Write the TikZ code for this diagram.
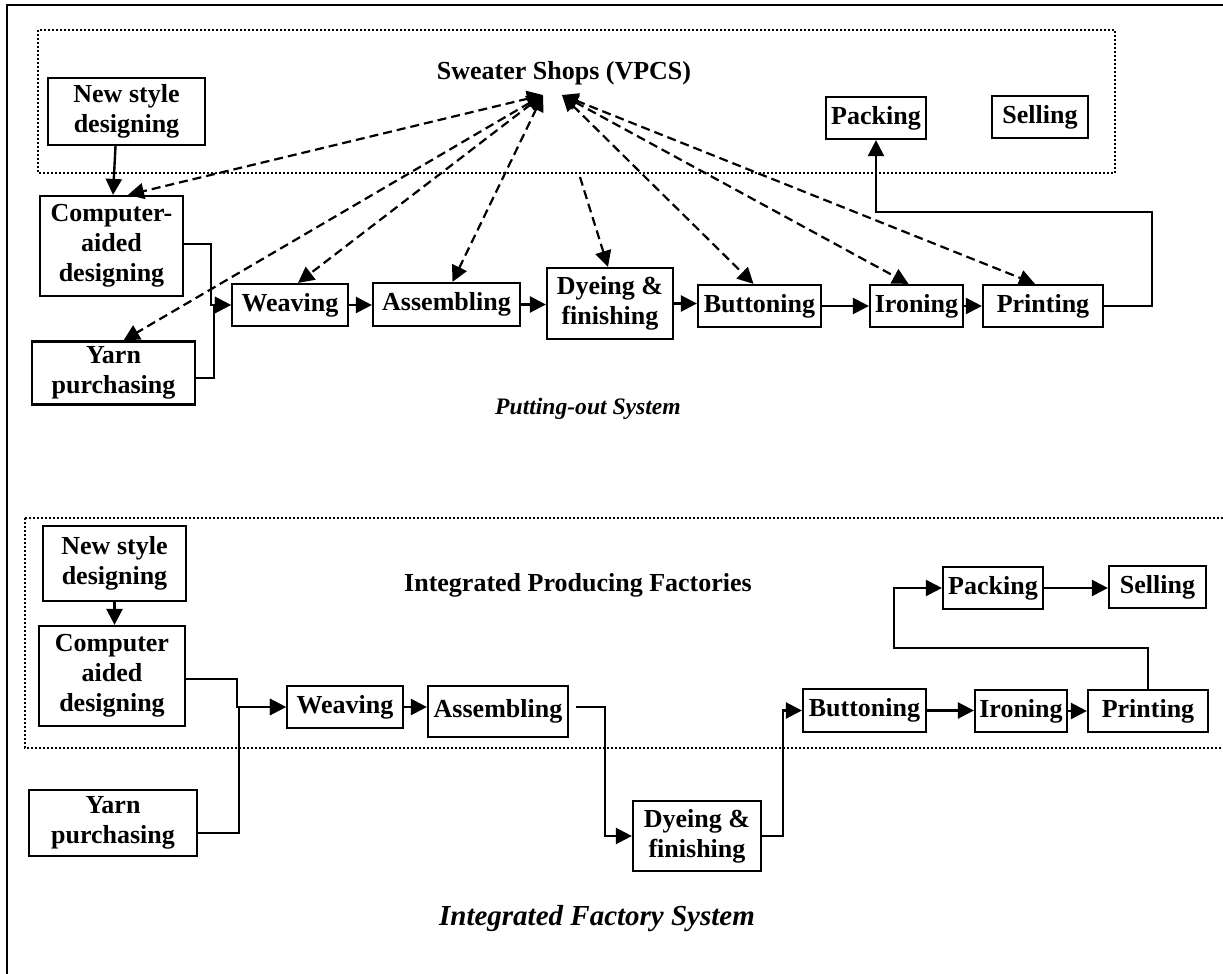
\documentclass[tikz,border=0pt]{standalone}
\usepackage{fontspec}
\setmainfont{Liberation Serif}
\usetikzlibrary{arrows.meta,calc}

\begin{document}
\begin{tikzpicture}[x=0.5pt,y=-0.5pt,>={Triangle[length=8pt,width=8pt]},
    box/.style={draw,line width=1.1pt,inner sep=0pt,align=center,
        font=\fontsize{13}{15}\selectfont\bfseries},
    conn/.style={line width=1.2pt},
    shopline/.style={line width=1.1pt,dash pattern=on 4.5pt off 2.5pt},
    zone/.style={line width=1pt,dash pattern=on 1pt off 1pt},
    heading/.style={font=\fontsize{13}{15}\selectfont\bfseries},
    sysname/.style={font=\fontsize{#1}{17}\selectfont\bfseries\itshape}]
    \useasboundingbox (0,0) rectangle (1223,974);
    \clip (0,0) rectangle (1223,974);
    \draw[line width=1.3pt] (7,1000) |- (1240,5);
    \draw[zone] (38,30) rectangle (1115,173);
    \draw[zone] (25,518) rectangle (1240,748);
    \foreach \n/\x/\y/\w/\h/\t in {%
        ns1/126.5/111.5/157/67/{New style\\designing},
        cad1/111.5/246/143/100/{Computer-\\aided\\designing},
        yarn1/113.5/373/163/63/{Yarn\\purchasing},
        weav1/290/305/116/42/{Weaving},
        asm1/446.5/304.5/147/43/{Assembling},
        dye1/610/303.5/126/71/{Dyeing \&\\finishing},
        but1/759.5/306/123/42/{Buttoning},
        iron1/916.5/306/93/42/{Ironing},
        prt1/1043/306/120/42/{Printing},
        pack1/876/118/100/42/{Packing},
        sell1/1040/117/96/42/{Selling},
        ns2/114.5/563.5/143/75/{New style\\designing},
        cad2/112/676/146/100/{Computer\\aided\\designing},
        yarn2/113/823/168/66/{Yarn\\purchasing},
        weav2/345/707/116/42/{Weaving},
        asm2/498/711.5/140/51/{Assembling},
        dye2/697/836/128/70/{Dyeing \&\\finishing},
        but2/864.5/710.5/123/43/{Buttoning},
        iron2/1021/711/92/42/{Ironing},
        prt2/1148/711/120/42/{Printing},
        pack2/993/588/100/42/{Packing},
        sell2/1157.5/587/97/42/{Selling}}
    \node[box,minimum width={\w*0.5pt},minimum height={\h*0.5pt}] (\n) at (\x,\y) {\t};
    \node[heading] (shops) at (564,73) {Sweater Shops (VPCS)};
    \node[heading] (ipf) at (578,585) {Integrated Producing Factories};
    \node[sysname=11.8] (putout) at (588,409) {Putting-out System};
    \node[sysname=14.5] (ifs) at (597,919) {Integrated Factory System};
    \coordinate (hubL) at (543,95);
    \coordinate (hubR) at (562,95);
    \coordinate (dyetop) at (580,177);
    \foreach \n/\d in {cad1/16.5,yarn1/10,weav1/8,asm1/6}
    \draw[shopline,<->] (hubL) -- ($(\n.north)+(\d,0)$);
    \foreach \n/\d in {but1/-6,iron1/-8,prt1/-8}
    \draw[shopline,<->] (hubR) -- ($(\n.north)+(\d,0)$);
    \draw[shopline,->] (dyetop) -- ($(dye1.north)+(-2,0)$);
    \draw[conn,->] ($(ns1.south)+(-11,0)$) -- ($(cad1.north)+(1.5,0)$);
    \draw[conn,->] ($(cad1.east)+(0,-2)$) -- ++(27,0) |- (weav1.west);
    \draw[conn,->] ($(yarn1.east)+(0,5)$) -- ++(18,0) |- (weav1.west);
    \foreach \a/\b in {weav1/asm1,asm1/dye1,dye1/but1,but1/iron1,iron1/prt1}
    \draw[conn,->] (\a.east) -- (\b.west |- \a.east);
    \draw[conn,->] (prt1.east) -- ++(48,0) -- ++(0,-94) -| (pack1.south);
    \draw[conn,->] (ns2.south) -- (ns2.south |- cad2.north);
    \draw[conn,->] ($(cad2.east)+(0,3)$) -- ++(51,0) |- (weav2.west);
    \draw[conn,->] ($(yarn2.east)+(0,10)$) -- ++(41,0) |- (weav2.west);
    \draw[conn,->] (weav2.east) -- (asm2.west |- weav2.east);
    \draw[conn,->] ($(asm2.east)+(7,-4.5)$) -- ++(29,0) |- (dye2.west);
    \draw[conn,->] (dye2.east) -- ++(21,0) |- (but2.west);
    \foreach \a/\b in {but2/iron2,iron2/prt2,pack2/sell2}
    \draw[conn,->] (\a.east) -- (\b.west |- \a.east);
    \draw[conn,->] (prt2.north) -- ++(0,-41) -| ($(pack2.west)+(-48,0)$) -- (pack2.west);
\end{tikzpicture}
\end{document}
